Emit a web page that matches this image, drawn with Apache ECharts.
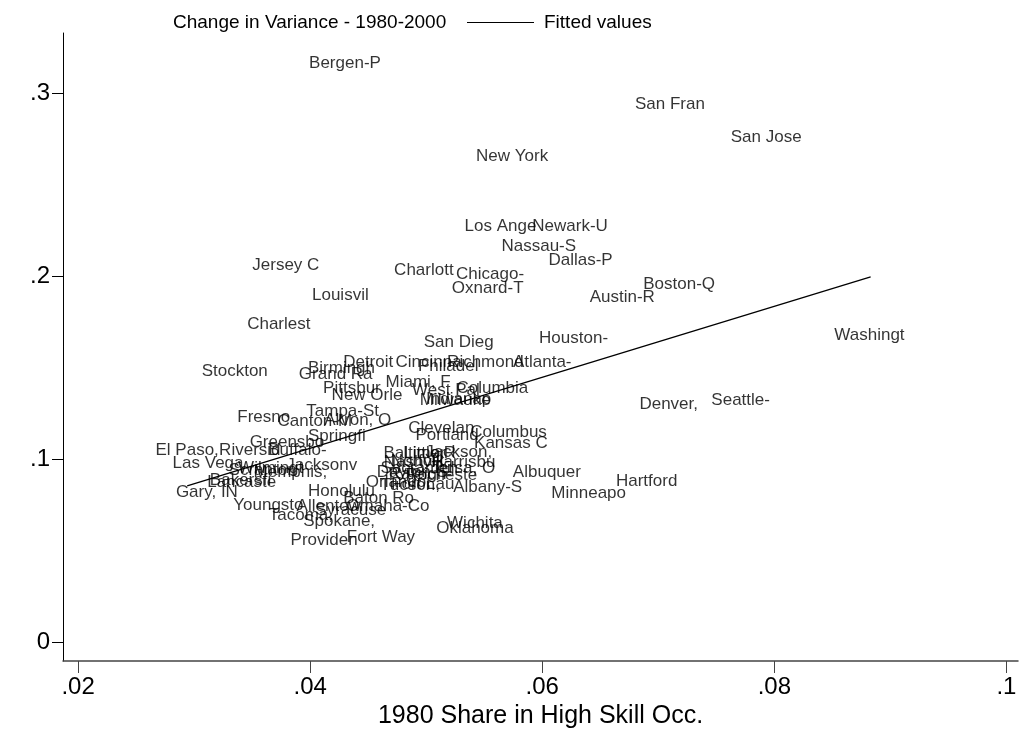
<!DOCTYPE html>
<html>
<head>
<meta charset="utf-8">
<script src="https://cdn.jsdelivr.net/npm/echarts@6/dist/echarts.min.js"></script>
<style>html,body{margin:0;padding:0;background:#fff}#chart{width:1021px;height:729px}</style>
</head>
<body>
<div id="chart"></div>
<script>
// City labels (Stata str8 abbreviations)
var cityNames = ["Bergen-P","San Fran","San Jose","New York","Los Ange","Newark-U","Nassau-S","Dallas-P","Jersey C","Charlott","Chicago-","Oxnard-T","Boston-Q","Austin-R","Louisvil","Charlest","San Dieg","Houston-","Washingt","Detroit","Cincinna","Philadel","Richmond","Atlanta-","Stockton","Birmingh","Grand Ra","Miami, F","Pittsbur","New Orle","West Pal","Columbia","Milwauke","Indianap","Fresno","Canton-M","Akron, O","Tampa-St","Denver,","Seattle-","Clevelan","Portland","Columbus","Kansas C","Springfi","Greensbo","Buffalo-","El Paso,","Riversid","Las Vega","Scranton","Wilmingt","Memphis,","Jacksonv","Lancaste","Bakersfi","Gary, IN","Honolulu","Youngsto","Allentow","Tacoma,","Syracuse","Omaha-Co","Spokane,","Baton Ro","Baltimor","Little R","Jackson,","Nashvill","Norfolk-","Harrisbu","Sacramen","Tulsa, O","Dayton-S","Raleigh-","Rocheste","Orlando,","Tucson,","Fort Lau","Albany-S","Albuquer","Hartford","Minneapo","Wichita","Oklahoma","Fort Way","Providen"];
// 1980 share in high skill occupations
var shareX = [0.0430,0.0710,0.0793,0.0574,0.0564,0.0624,0.0597,0.0633,0.0379,0.0498,0.0555,0.0553,0.0718,0.0669,0.0426,0.0373,0.0528,0.0627,0.0882,0.0450,0.0502,0.0519,0.0551,0.0600,0.0335,0.0427,0.0422,0.0493,0.0436,0.0449,0.0517,0.0557,0.0525,0.0528,0.0360,0.0404,0.0441,0.0428,0.0709,0.0771,0.0513,0.0518,0.0571,0.0573,0.0423,0.0380,0.0389,0.0294,0.0348,0.0312,0.0359,0.0366,0.0383,0.0410,0.0341,0.0340,0.0311,0.0427,0.0364,0.0416,0.0392,0.0435,0.0467,0.0425,0.0459,0.0490,0.0503,0.0528,0.0489,0.0495,0.0532,0.0494,0.0532,0.0488,0.0495,0.0513,0.0476,0.0486,0.0497,0.0553,0.0604,0.0690,0.0640,0.0542,0.0542,0.0461,0.0412];
// Change in variance 1980-2000
var varianceY = [0.3166,0.2942,0.2761,0.2657,0.2274,0.2274,0.2165,0.2089,0.2061,0.2034,0.2012,0.1935,0.1957,0.1886,0.1897,0.1739,0.1640,0.1662,0.1678,0.1531,0.1531,0.1509,0.1531,0.1531,0.1482,0.1498,0.1465,0.1422,0.1389,0.1350,0.1378,0.1389,0.1323,0.1329,0.1230,0.1208,0.1214,0.1263,0.1301,0.1323,0.1170,0.1132,0.1148,0.1088,0.1126,0.1093,0.1050,0.1050,0.1050,0.0979,0.0940,0.0951,0.0929,0.0968,0.0875,0.0886,0.0820,0.0826,0.0749,0.0744,0.0694,0.0722,0.0744,0.0662,0.0787,0.1033,0.1033,0.1039,0.0984,0.0990,0.0984,0.0951,0.0951,0.0929,0.0919,0.0913,0.0875,0.0858,0.0864,0.0847,0.0929,0.0880,0.0815,0.0651,0.0623,0.0574,0.0558];
// Fitted values (line endpoints)
var fitX = [0.0294, 0.0883];
var fitY = [0.0853, 0.1996];
// Tick labels
var xTicks = [0.02, 0.04, 0.06, 0.08, 0.1];
var xTickLabels = [".02", ".04", ".06", ".08", ".1"];
var yTicks = [0, 0.1, 0.2, 0.3];
var yTickLabels = ["0", ".1", ".2", ".3"];

var FONT = "Liberation Sans, Arial, sans-serif";
var pts = cityNames.map(function (n, i) { return { name: n, value: [shareX[i], varianceY[i]] }; });
var fitData = fitX.map(function (x, i) { return [x, fitY[i]]; });

function fmt(ticks, labels) {
  return function (v) {
    for (var i = 0; i < ticks.length; i++) if (Math.abs(ticks[i] - v) < 1e-9) return labels[i];
    return "";
  };
}

var chart = echarts.init(document.getElementById("chart"), null, { renderer: "canvas" });
chart.setOption({
  animation: false,
  backgroundColor: "#fff",
  grid: { left: 63, right: 3, top: 33, bottom: 68, containLabel: false, outerBoundsMode: "none" },
  legend: [
    { data: [{ name: "Change in Variance - 1980-2000", icon: "none" }], left: 163, top: 8, itemWidth: 0, itemHeight: 2, selectedMode: false,
      textStyle: { fontSize: 19, color: "#000", fontFamily: FONT } },
    { data: [{ name: "Fitted values", icon: "rect", itemStyle: { color: "#000" } }], left: 462, top: 8, itemWidth: 67, itemHeight: 1.2, selectedMode: false,
      textStyle: { fontSize: 19, color: "#000", fontFamily: FONT, padding: [0, 0, 0, 5] } }
  ],
  xAxis: {
    type: "value", min: 0.0187, max: 0.101,
    name: "1980 Share in High Skill Occ.", nameLocation: "middle", nameGap: 36,
    nameTextStyle: { fontSize: 25, color: "#000", fontFamily: FONT },
    axisLine: { show: true, onZero: false, lineStyle: { color: "#444", width: 1.5 } },
    axisTick: { show: true, length: 12, customValues: xTicks, lineStyle: { color: "#444", width: 1 } },
    axisLabel: { customValues: xTicks, formatter: fmt(xTicks, xTickLabels), margin: 14, fontSize: 24, color: "#000", fontFamily: FONT },
    splitLine: { show: false }
  },
  yAxis: {
    type: "value", min: -0.0104, max: 0.333,
    axisLine: { show: true, onZero: false, lineStyle: { color: "#000", width: 1 } },
    axisTick: { show: true, length: 11, customValues: yTicks, lineStyle: { color: "#000", width: 1 } },
    axisLabel: { customValues: yTicks, formatter: fmt(yTicks, yTickLabels), margin: 13, fontSize: 24, color: "#000", fontFamily: FONT },
    splitLine: { show: false }
  },
  series: [
    {
      name: "Change in Variance - 1980-2000", type: "scatter", data: pts,
      symbolSize: 1, itemStyle: { color: "rgba(0,0,0,0)" },
      label: { show: true, position: "inside", formatter: "{b}", color: "#000", fontSize: 17, fontFamily: FONT },
      emphasis: { disabled: true }, silent: true, z: 2
    },
    {
      name: "Fitted values", type: "line", data: fitData, symbol: "none", showSymbol: false,
      lineStyle: { color: "#000", width: 1.3 }, itemStyle: { color: "#000" },
      emphasis: { disabled: true }, silent: true, z: 3
    }
  ]
});
</script>
</body>
</html>
